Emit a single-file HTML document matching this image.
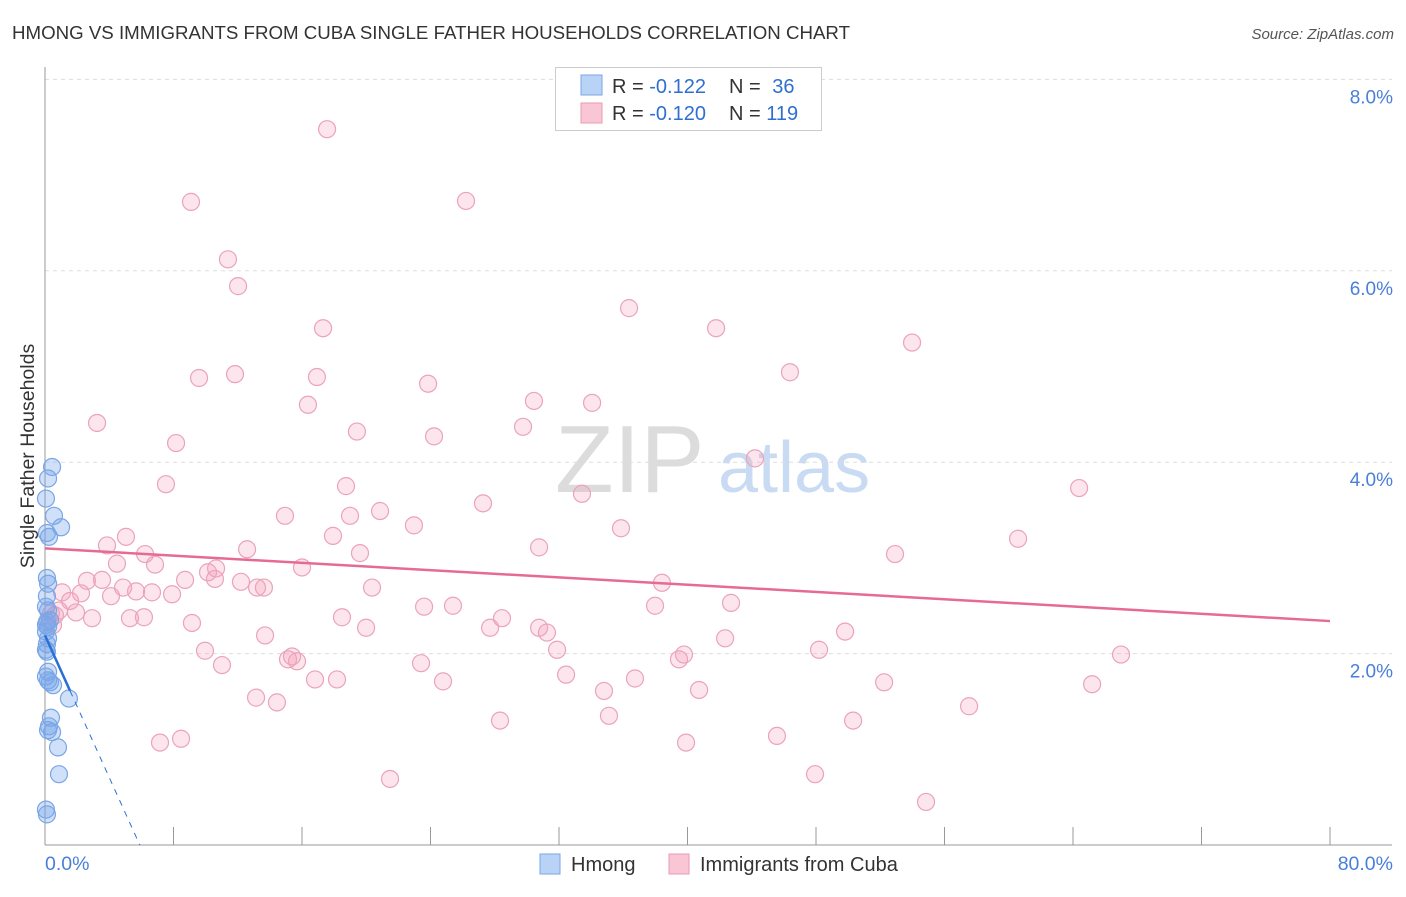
<!DOCTYPE html>
<html><head><meta charset="utf-8"><style>
body{margin:0;background:#fff;font-family:"Liberation Sans",sans-serif;}
svg text{font-family:"Liberation Sans",sans-serif;}
</style></head><body>
<svg id="chart" width="1406" height="892" xmlns="http://www.w3.org/2000/svg">
<text x="12" y="39" font-size="18.6" fill="#333" textLength="838" lengthAdjust="spacingAndGlyphs">HMONG VS IMMIGRANTS FROM CUBA SINGLE FATHER HOUSEHOLDS CORRELATION CHART</text>
<text x="1394" y="39" font-size="15" fill="#555" font-style="italic" text-anchor="end">Source: ZipAtlas.com</text>
<text transform="translate(34,456) rotate(-90)" font-size="19.5" fill="#333" text-anchor="middle">Single Father Households</text>
<g>
<text x="555" y="492" font-size="96" font-family="Liberation Serif" fill="#dcdcdc">ZIP</text>
<text x="718" y="492" font-size="72" fill="#c9daf3">atlas</text>
</g>
<g id="grid"></g><g id="axes"></g><g id="pink"></g><g id="blue"></g><g id="trend"></g>
<g>
<rect x="555.5" y="67.5" width="266" height="63" fill="#fff" stroke="#ccc"/>
<rect x="581" y="75" width="21" height="20" fill="#b9d3f7" stroke="#7aa6e6"/>
<rect x="581" y="103" width="21" height="20" fill="#f9c6d6" stroke="#eb9ab4"/>
<text x="612" y="93" font-size="20" fill="#333">R = <tspan fill="#2f6fd0">-0.122</tspan></text>
<text x="729" y="93" font-size="20" fill="#333">N = <tspan fill="#2f6fd0" dx="6">36</tspan></text>
<text x="612" y="120" font-size="20" fill="#333">R = <tspan fill="#2f6fd0">-0.120</tspan></text>
<text x="729" y="120" font-size="20" fill="#333">N = <tspan fill="#2f6fd0">119</tspan></text>
</g>
<g>
<rect x="540" y="854" width="20" height="20" fill="#b9d3f7" stroke="#7aa6e6"/>
<text x="571" y="871" font-size="20" fill="#333">Hmong</text>
<rect x="669" y="854" width="20" height="20" fill="#f9c6d6" stroke="#eb9ab4"/>
<text x="700" y="871" font-size="20" fill="#333">Immigrants from Cuba</text>
</g>
<text x="45" y="870" font-size="19.5" fill="#4a7fd8">0.0%</text>
<text x="1393" y="870" font-size="19.5" fill="#4a7fd8" text-anchor="end">80.0%</text>
</svg>
<script>
const yTicks=[2,4,6,8];
const yTickLabels=["2.0%","4.0%","6.0%","8.0%"];
const xTicks=[0,8,16,24,32,40,48,56,64,72,80];
const pinkX=[17.56,9.09,26.21,11.39,12.02,36.36,17.31,41.78,53.98,9.59,11.83,16.93,46.38,23.85,3.24,16.37,30.44,34.06,8.16,19.42,24.22,29.76,44.2,7.53,18.74,64.38,33.43,27.27,20.86,14.94,18.99,22.97,35.86,5.04,17.93,3.86,12.58,6.23,30.76,19.61,52.92,60.58,4.48,6.85,16.0,10.15,10.65,2.61,3.55,8.72,12.2,10.58,20.36,4.86,6.66,7.91,13.63,13.2,38.41,2.24,1.06,4.11,5.67,1.56,0.87,1.93,0.37,2.93,5.29,6.16,42.71,23.6,25.4,37.98,18.49,28.45,27.71,9.15,19.99,30.76,31.25,49.81,13.7,42.34,9.96,31.88,48.19,66.99,39.78,39.47,15.38,15.69,15.13,11.02,23.41,24.78,16.81,18.18,32.44,36.73,52.24,65.19,34.8,40.72,13.14,14.44,57.53,35.11,28.33,50.31,8.47,7.16,39.91,45.57,21.48,47.94,54.85,0.5,0.19,0.62];
const pinkY=[7.48,6.72,6.73,6.12,5.84,5.61,5.4,5.4,5.25,4.88,4.92,4.89,4.94,4.82,4.41,4.6,4.64,4.62,4.2,4.32,4.27,4.37,4.04,3.77,3.75,3.73,3.67,3.57,3.49,3.44,3.44,3.34,3.31,3.22,3.23,3.13,3.09,3.04,3.11,3.05,3.04,3.2,2.94,2.93,2.9,2.85,2.89,2.76,2.77,2.77,2.75,2.78,2.69,2.69,2.64,2.62,2.69,2.69,2.74,2.63,2.64,2.6,2.65,2.55,2.45,2.43,2.42,2.37,2.37,2.38,2.53,2.49,2.5,2.5,2.38,2.37,2.27,2.32,2.27,2.27,2.22,2.23,2.19,2.16,2.03,2.04,2.04,1.99,1.99,1.94,1.97,1.92,1.94,1.88,1.9,1.71,1.73,1.73,1.78,1.74,1.7,1.68,1.61,1.62,1.54,1.49,1.45,1.35,1.3,1.3,1.11,1.07,1.07,1.14,0.69,0.74,0.45,2.3,2.35,2.4];
const blueX=[0.44,0.19,0.06,0.56,1.0,0.12,0.25,0.12,0.19,0.12,0.06,0.19,0.12,0.19,0.06,0.19,0.12,0.06,0.12,0.19,0.06,0.19,0.31,0.5,1.49,0.37,0.25,0.44,0.19,0.81,0.87,0.06,0.12,0.31,0.06];
const blueY=[3.95,3.83,3.62,3.44,3.32,3.26,3.22,2.79,2.73,2.6,2.49,2.45,2.33,2.28,2.23,2.16,2.1,2.04,2.02,1.81,1.76,1.72,1.7,1.67,1.53,1.33,1.24,1.18,1.2,1.02,0.74,0.37,0.32,2.35,2.3];
const pinkTrend=[3.1,2.34];
const blueTrend=[2.19,-0.371];
const X0=45,X1=1330,Y0=845,PX=(X1-X0)/80,PY=95.7;
const sx=v=>X0+v*PX, sy=v=>Y0-v*PY;
const NS="http://www.w3.org/2000/svg";
function mk(tag,attrs,parent){const e=document.createElementNS(NS,tag);for(const k in attrs)e.setAttribute(k,attrs[k]);document.getElementById(parent).appendChild(e);return e;}
yTicks.forEach((t,i)=>{
 const g=mk("line",{x1:X0,x2:1392,y1:sy(t),y2:sy(t),stroke:"#ddd","stroke-dasharray":"4,4"},"grid");
 
 
 const l=mk("text",{x:1393,y:sy(t)+24,"font-size":19,fill:"#4a7fd8","text-anchor":"end"},"grid");
 l.textContent=yTickLabels[i];
 
 
});
const ax=mk("line",{x1:X0,x2:X0,y1:67,y2:Y0,stroke:"#999"},"axes");


const bx=mk("line",{x1:X0,x2:1392,y1:Y0,y2:Y0,stroke:"#999"},"axes");


xTicks.forEach(t=>{
 const k=mk("line",{x1:sx(t),x2:sx(t),y1:827,y2:Y0,stroke:"#999"},"axes");
 
 
});
pinkX.forEach((x,i)=>{
 const c=mk("circle",{cx:sx(x),cy:sy(pinkY[i]),r:8.5,fill:"rgba(244,160,188,0.28)",stroke:"#eba3bb","stroke-width":1.2},"pink");
 
 
});
blueX.forEach((x,i)=>{
 const c=mk("circle",{cx:sx(x),cy:sy(blueY[i]),r:8.5,fill:"rgba(120,165,235,0.35)",stroke:"#7aa6e6","stroke-width":1.2},"blue");
 
 
});
const pt=mk("line",{x1:sx(0),y1:sy(pinkTrend[0]),x2:sx(80),y2:sy(pinkTrend[1]),stroke:"#e66a96","stroke-width":2.5},"trend");


const bEnd=1.56, bZero=-blueTrend[0]/blueTrend[1];
const bt=mk("line",{x1:sx(0),y1:sy(blueTrend[0]),x2:sx(bEnd),y2:sy(blueTrend[0]+blueTrend[1]*bEnd),stroke:"#2a6fd6","stroke-width":2.5},"trend");


const bd=mk("line",{x1:sx(bEnd),y1:sy(blueTrend[0]+blueTrend[1]*bEnd),x2:sx(bZero),y2:sy(0),stroke:"#2a6fd6","stroke-width":1,"stroke-dasharray":"6,6"},"trend");


</script>
</body></html>
